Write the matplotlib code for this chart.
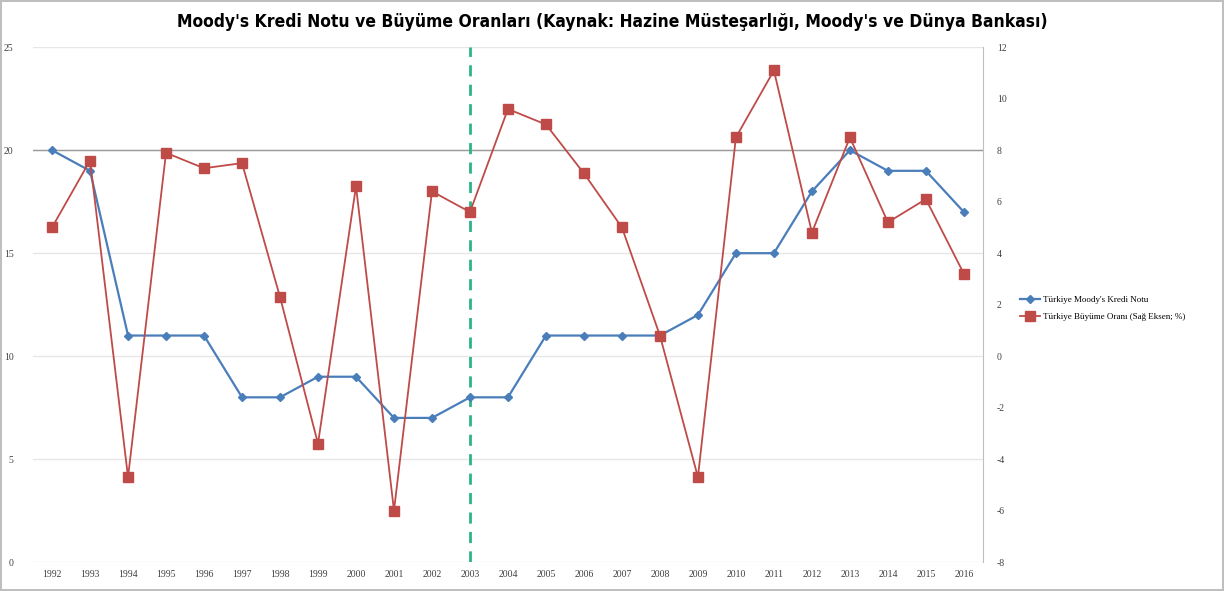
import matplotlib.pyplot as plt

years = [str(y) for y in range(1992, 2017)]
moodys = [20, 19, 11, 11, 11, 8, 8, 9, 9, 7, 7, 8, 8, 11, 11, 11, 11, 12, 15, 15, 18, 20, 19, 19, 17]
growth = [5.0, 7.6, -4.7, 7.9, 7.3, 7.5, 2.3, -3.4, 6.6, -6.0, 6.4, 5.6, 9.6, 9.0, 7.1,
          5.0, 0.8, -4.7, 8.5, 11.1, 4.8, 8.5, 5.2, 6.1, 3.2]
left_ticks = [0, 5, 10, 15, 20, 25]
right_ticks = [-8, -6, -4, -2, 0, 2, 4, 6, 8, 10, 12]

plt.rcParams['font.family'] = ['Liberation Serif', 'DejaVu Serif']
plt.rcParams['axes.unicode_minus'] = False

fig = plt.figure(figsize=(12.24, 5.91), dpi=100)
fig.patch.set_edgecolor('#bfbfbf')
fig.patch.set_linewidth(1.5)
ax = fig.add_axes([0.027, 0.049, 0.776, 0.871])
ax2 = ax.twinx()

x = list(range(len(years)))
l1, = ax.plot(x, moodys, color='#4a7ebb', lw=1.6, marker='D', ms=4,
              label="Türkiye Moody's Kredi Notu", zorder=3)
l2, = ax2.plot(x, growth, color='#be4b48', lw=1.3, marker='s', ms=7,
               label='Türkiye Büyüme Oranı (Sağ Eksen; %)')
ax.axvline(x[years.index('2003')], color='#2bb38a', lw=2, ls=(0, (4, 3)))

ax.set_xlim(-0.5, len(years) - 0.5)
ax.set_ylim(0, 25)
ax2.set_ylim(-8, 12)
ax.set_yticks(left_ticks)
ax2.set_yticks(right_ticks)
ax.set_xticks(x)
ax.set_xticklabels(years)
ax.yaxis.grid(True, color='#e6e6e6', lw=1)
ax.set_axisbelow(True)
ax.axhline(20, color='#9a9a9a', lw=1, zorder=1)

for a in (ax, ax2):
    for s in a.spines.values():
        s.set_visible(False)
    a.tick_params(length=0, labelsize=7, labelcolor='#404040')
ax2.spines['right'].set_visible(True)
ax2.spines['right'].set_color('#bfbfbf')
ax.tick_params(axis='y', pad=14)
ax2.tick_params(axis='y', pad=10)
ax.tick_params(axis='x', pad=6)

fig.suptitle("Moody's Kredi Notu ve Büyüme Oranları (Kaynak: Hazine Müsteşarlığı, Moody's ve Dünya Bankası)",
             x=0.5, y=0.963, va='center', fontsize=12.5, fontweight='bold',
             fontstretch='condensed', family=['DejaVu Sans'])

fig.legend(handles=[l1, l2], loc='center left', bbox_to_anchor=(0.827, 0.478),
           frameon=False, fontsize=6.5, handlelength=2.2, labelspacing=1.0,
           handletextpad=0.3)

fig.savefig('out.png', dpi=100)
